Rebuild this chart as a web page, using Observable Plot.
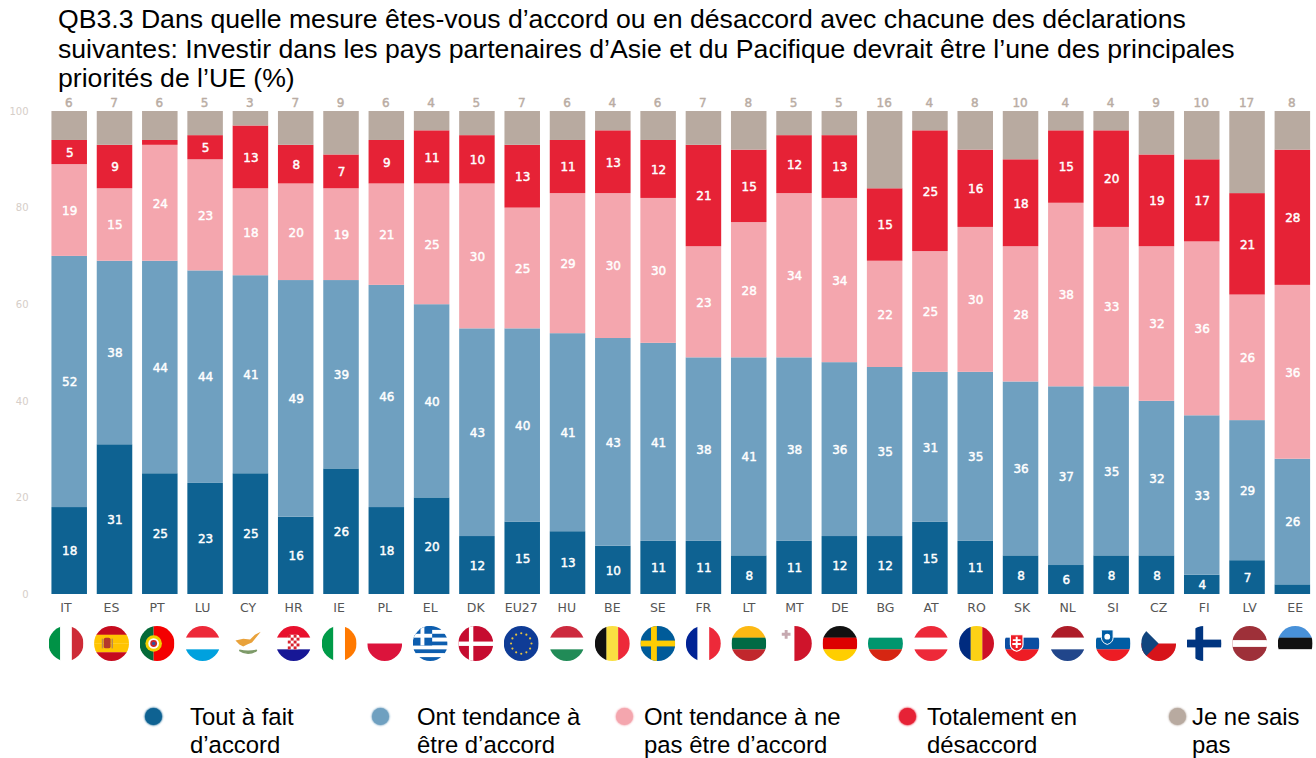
<!DOCTYPE html>
<html lang="fr">
<head>
<meta charset="utf-8">
<script src="https://cdn.jsdelivr.net/npm/d3@7"></script>
<script src="https://cdn.jsdelivr.net/npm/@observablehq/plot@0.6"></script>
<style>
  html,body{margin:0;padding:0;background:#fff;width:1316px;height:758px;overflow:hidden;position:relative}
  #title{position:absolute;left:58px;top:5px;width:1250px;font:26.64px/29.5px "Liberation Sans",Arial,sans-serif;color:#000;white-space:nowrap}
  #chart{position:absolute;left:0;top:92px}
  #under{position:absolute;left:0;top:596px}
  svg{display:block}
  .lg{position:absolute;font:23.9px/28px "Liberation Sans",Arial,sans-serif;color:#000;white-space:pre-line;top:703px}
  .dot{position:absolute;width:17px;height:17px;border-radius:50%;top:708px;box-shadow:0 0 2px 0.5px currentColor}
</style>
</head>
<body>
<div id="title">QB3.3 Dans quelle mesure êtes-vous d’accord ou en désaccord avec chacune des déclarations<br>suivantes: Investir dans les pays partenaires d’Asie et du Pacifique devrait être l’une des principales<br>priorités de l’UE (%)</div>
<div id="chart"></div>
<div id="under"></div>
<div id="legend"></div>
<script>
const countries = ["IT","ES","PT","LU","CY","HR","IE","PL","EL","DK","EU27","HU","BE","SE","FR","LT","MT","DE","BG","AT","RO","SK","NL","SI","CZ","FI","LV","EE"];
const seriesNames = ["Tout à fait d’accord","Ont tendance à être d’accord","Ont tendance à ne pas être d’accord","Totalement en désaccord","Je ne sais pas"];
const toutAFait  = [18,31,25,23,25,16,26,18,20,12,15,13,10,11,11,8,11,12,12,15,11,8,6,8,8,4,7,2];
const tendanceOui= [52,38,44,44,41,49,39,46,40,43,40,41,43,41,38,41,38,36,35,31,35,36,37,35,32,33,29,26];
const tendanceNon= [19,15,24,23,18,20,19,21,25,30,25,29,30,30,23,28,34,34,22,25,30,28,38,33,32,36,26,36];
const totalement = [5,9,1,5,13,8,7,9,11,10,13,11,13,12,21,15,12,13,15,25,16,18,15,20,19,17,21,28];
const neSaisPas  = [6,7,6,5,3,7,9,6,4,5,7,6,4,6,7,8,5,5,16,4,8,10,4,4,9,10,17,8];
const colors = ["#0e6292","#6fa0c0","#f4a6ae","#e62236","#b8aaa0"];
const legendLines = ["Tout à fait\nd’accord","Ont tendance à\nêtre d’accord","Ont tendance à ne\npas être d’accord","Totalement en\ndésaccord","Je ne sais\npas"];
const legendDotX = [144.5,372,615.5,898.5,1169];
const legendTextX = [190,417,644,927,1192];

const valuesBySeries = [toutAFait,tendanceOui,tendanceNon,totalement,neSaisPas];
const rows = seriesNames.flatMap((s,i)=>countries.map((c,j)=>({country:c,series:s,value:valuesBySeries[i][j]})));
const FONT = '"DejaVu Sans",sans-serif';

// ---- flag icons (36×36 viewBox) ----
const H=(...c)=>c.map((f,i)=>`<rect x="0" y="${36*i/c.length}" width="36" height="${36/c.length+.2}" fill="${f}"/>`).join("");
const V=(...c)=>c.map((f,i)=>`<rect y="0" x="${36*i/c.length}" height="36" width="${36/c.length+.2}" fill="${f}"/>`).join("");
const stars=Array.from({length:12},(_,i)=>`<circle cx="${18+10.5*Math.cos(i*Math.PI/6)}" cy="${18+10.5*Math.sin(i*Math.PI/6)}" r="1.1" fill="#e8c440"/>`).join("");
const checker=(()=>{let s='<rect x="12" y="9" width="12" height="15" rx="2" fill="#fff"/>';for(let r=0;r<5;r++)for(let c=0;c<4;c++)if((r+c)%2==0)s+=`<rect x="${12+c*3}" y="${9+r*3}" width="3" height="3" fill="#d8232f"/>`;return s})();
const flagArt = {
  IT:V("#009246","#fff","#ce2b37"),
  ES:H("#c60b1e","#ffc400","#ffc400","#c60b1e")+'<rect x="10" y="12" width="7" height="11" rx="2" fill="#b5392a"/><rect x="8" y="13" width="1.5" height="10" fill="#b98a50"/><rect x="18" y="13" width="1.5" height="10" fill="#b98a50"/>',
  PT:'<rect width="14.5" height="36" fill="#046a38"/><rect x="14.5" width="21.5" height="36" fill="#f40000"/><circle cx="14.5" cy="18" r="8.5" fill="#f2d000"/><circle cx="14.5" cy="18" r="5.5" fill="#fff"/><circle cx="14.5" cy="18" r="3.5" fill="#c8242b"/><circle cx="14.5" cy="18" r="1.8" fill="#2d55a0"/>',
  LU:H("#ed2939","#fff","#00a1de"),
  CY:'<rect width="36" height="36" fill="#fff"/><path d="M5 15 L13 13 L20 14 L25 9 L31 6 L26 12 L22 17 L17 19 L13 21 L9 19 Z" fill="#e9a23b"/><path d="M9 25 Q18 31 27 25 Q18 27 9 25Z" fill="#7d9a68" stroke="#7d9a68" stroke-width="1.6"/>',
  HR:H("#e8112d","#fff","#171796")+checker,
  IE:V("#009b48","#fff","#ff7900"),
  PL:H("#fff","#dc143c"),
  EL:H("#0d5eaf","#fff","#0d5eaf","#fff","#0d5eaf","#fff","#0d5eaf","#fff","#0d5eaf")+'<rect width="20" height="20" fill="#0d5eaf"/><rect x="8" width="4" height="20" fill="#fff"/><rect y="8" width="20" height="4" fill="#fff"/>',
  DK:'<rect width="36" height="36" fill="#c60c30"/><rect x="11" width="4.5" height="36" fill="#fff"/><rect y="16" width="36" height="4.5" fill="#fff"/>',
  EU27:'<rect width="36" height="36" fill="#0f3c96"/>'+stars,
  HU:H("#cd2a3e","#fff","#218b57"),
  BE:V("#111","#fae042","#ed2939"),
  SE:'<rect width="36" height="36" fill="#005b99"/><rect x="11" width="6" height="36" fill="#fecc02"/><rect y="15" width="36" height="6" fill="#fecc02"/>',
  FR:V("#002395","#fff","#ed2939"),
  LT:H("#fdb913","#006a44","#c1272d"),
  MT:'<rect width="18" height="36" fill="#fff"/><rect x="18" width="18" height="36" fill="#cf142b"/><path d="M5 7h3v-3h3v3h3v3h-3v3h-3v-3h-3z" fill="#c6a9b0"/>',
  DE:H("#111","#dd0000","#ffce00"),
  BG:H("#fff","#00966e","#d62612"),
  AT:H("#ed2939","#fff","#ed2939"),
  RO:V("#002b7f","#fcd116","#ce1126"),
  SK:H("#fff","#0b4ea2","#ee1c25")+'<path d="M6 9h13v10q0 5-6.5 7q-6.5-2-6.5-7z" fill="#ee1c25" stroke="#fff" stroke-width="1.2"/><path d="M11.5 11h2v2.5h3v2h-3v2h3.5v2h-3.5v3h-2v-3h-3.5v-2h3.5v-2h-3v-2h3z" fill="#fff"/>',
  NL:H("#ae1c28","#fff","#21468b"),
  SI:H("#fff","#005da4","#ed1c24")+'<path d="M6 4h12v8q0 5-6 7q-6-2-6-7z" fill="#005da4" stroke="#fff" stroke-width="1"/><circle cx="12" cy="11" r="3" fill="#fff"/>',
  CZ:'<rect width="36" height="18" fill="#fff"/><rect y="18" width="36" height="18" fill="#d7141a"/><path d="M0 0L18 18L0 36Z" fill="#11457e"/>',
  FI:'<rect width="36" height="36" fill="#fff"/><rect x="9" width="8" height="36" fill="#003580"/><rect y="14" width="36" height="8" fill="#003580"/>',
  LV:'<rect width="36" height="36" fill="#9e3039"/><rect y="14.5" width="36" height="7" fill="#fff"/>',
  EE:H("#4891d9","#111","#fff")
};
const flagSrc = c => "data:image/svg+xml," + encodeURIComponent(`<svg xmlns="http://www.w3.org/2000/svg" viewBox="0 0 36 36" width="36" height="36">${flagArt[c]}</svg>`);

// ---- bars ----
const chart = Plot.plot({
  width:1316, height:510, marginTop:19, marginBottom:8, marginLeft:46.55, marginRight:1,
  style:{background:"transparent",fontFamily:FONT},
  x:{domain:countries,paddingInner:0.216,paddingOuter:0.108,axis:null,round:false},
  y:{domain:[0,100]},
  color:{domain:seriesNames,range:colors},
  marks:[
    Plot.axisY({ticks:[0,20,40,60,80,100],tickSize:0,tickPadding:18.5,fontSize:10,color:"#d6cec8",label:null,marginLeft:46.55}),
    Plot.barY(rows,{x:"country",y:"value",z:"series",fill:"series",order:null}),
    Plot.text(rows,Plot.stackY({x:"country",y:"value",z:"series",order:null,
      text:d=>(d.series===seriesNames[4]||d.value<4)?null:String(d.value),
      fill:"#fff",stroke:"#fff",strokeWidth:0.45,fontSize:12,dy:0.5})),
    Plot.text(rows.filter(d=>d.series===seriesNames[4]),{x:"country",y:()=>100,text:d=>String(d.value),
      fill:"#b9aca3",stroke:"#b9aca3",strokeWidth:0.45,fontSize:12,dy:-8.5,dx:-1})
  ]
});
document.getElementById("chart").append(chart);

// ---- country codes and flags ----
const under = Plot.plot({
  width:1316, height:79, marginTop:15, marginBottom:0, marginLeft:0, marginRight:0,
  style:{background:"transparent",fontFamily:FONT},
  x:{type:"point",domain:countries,range:[65.5,1294.7],padding:0,round:false},
  marks:[
    Plot.axisX({anchor:"top",tickSize:0,tickPadding:0,fontSize:12.5,color:"#555",label:null}),
    Plot.image(countries,{x:d=>d,src:flagSrc,r:17.5,frameAnchor:"middle"})
  ]
});
document.getElementById("under").append(under);

// ---- legend ----
const lg=document.getElementById("legend");
legendLines.forEach((t,i)=>{
  const dot=document.createElement("div");dot.className="dot";
  dot.style.left=legendDotX[i]+"px";dot.style.background=colors[i];dot.style.color=colors[i];
  const txt=document.createElement("div");txt.className="lg";txt.style.left=legendTextX[i]+"px";txt.textContent=t;
  lg.append(dot,txt);
});
</script>
</body>
</html>
